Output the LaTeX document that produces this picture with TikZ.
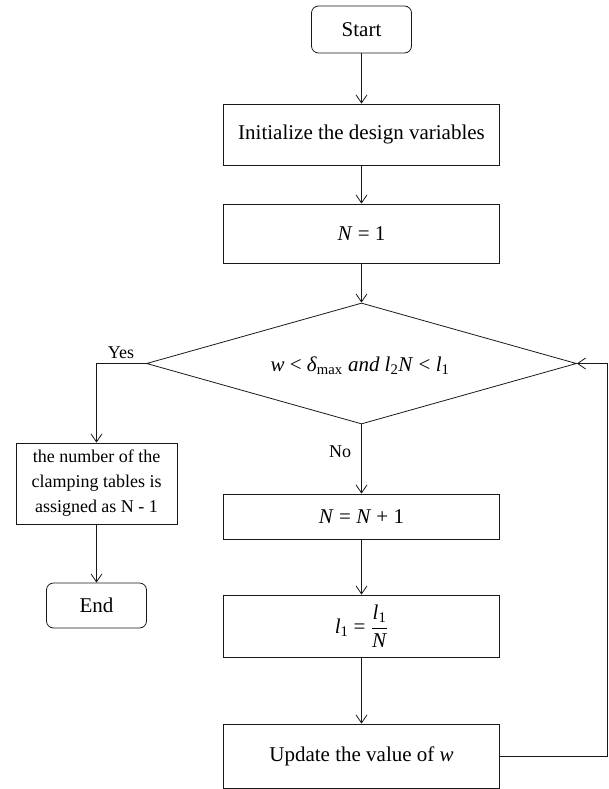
\documentclass[tikz,border=0pt]{standalone}
\usepackage{amsmath}
\usepackage{fontspec}
\setmainfont{Liberation Serif}
\usetikzlibrary{arrows.meta,shapes.geometric}
\tikzset{
  base/.style={draw=black!90, line width=0.8pt, inner sep=0pt, align=center, font=\fontsize{21}{25}\selectfont},
  procbox/.style={base, rectangle, minimum width=276pt},
  termbox/.style={base, rectangle, rounded corners=7pt, minimum width=100pt},
  decbox/.style={base, diamond, aspect=3.55, minimum width=430pt, minimum height=121pt},
  lbl/.style={font=\fontsize{18}{22}\selectfont, inner sep=0pt},
  arr/.style={draw=black!90, line width=0.8pt, -{Straight Barb[length=8pt,width=11pt]}},
  ln/.style={draw=black!90, line width=0.8pt}
}
\begin{document}
\begin{tikzpicture}[x=1pt,y=-1pt]
\useasboundingbox (0,0) rectangle (608,789);
\node[termbox, minimum height=47pt] (start) at (361.5,29.5) {Start};
\node[procbox, minimum height=61pt] (init) at (361.5,134.5) {Initialize the design variables};
\node[procbox, minimum height=59pt] (n1) at (361.5,233.5) {\textit{N} = 1};
\node[decbox] (dec) at (361.5,363.5) {};
\node[lbl, font=\fontsize{21}{25}\selectfont] (dectext) at (360,366) {\textit{w} < \textit{δ}$_{\text{max}}$ \textit{and l}$_{\text{2}}$\textit{N} < \textit{l}$_{\text{1}}$};
\node[procbox, minimum height=45pt] (nn) at (361.5,516.5) {\textit{N} = \textit{N} + 1};
\node[procbox, minimum height=62pt] (l1) at (361.5,626) {\textit{l}$_{\text{1}}$ = $\dfrac{\text{\textit{l}}_{\text{1}}}{\text{\textit{N}}}$};
\node[procbox, minimum height=64pt] (upd) at (361.5,756) {Update the value of \textit{w}};
\node[base, rectangle, minimum width=161pt, minimum height=81pt, font=\fontsize{18}{25}\selectfont] (assign) at (96.5,483.5) {the number of the\\clamping tables is\\assigned as N - 1};
\node[termbox, minimum height=45pt] (end) at (96.5,605.5) {End};
\node[lbl] (yes) at (121,353) {Yes};
\node[lbl] (no) at (340,452) {No};
\coordinate (loopr) at (607,756);
\draw[arr] (start) -- (init);
\draw[arr] (init) -- (n1);
\draw[arr] (n1) -- (dec);
\draw[arr] (dec.west) -| (assign.north);
\draw[arr] (assign) -- (end);
\draw[arr] (dec.south) -- (nn.north);
\draw[arr] (nn) -- (l1);
\draw[arr] (l1) -- (upd);
\draw[arr] (upd.east) -- (loopr) |- (dec.east);
\end{tikzpicture}
\end{document}
